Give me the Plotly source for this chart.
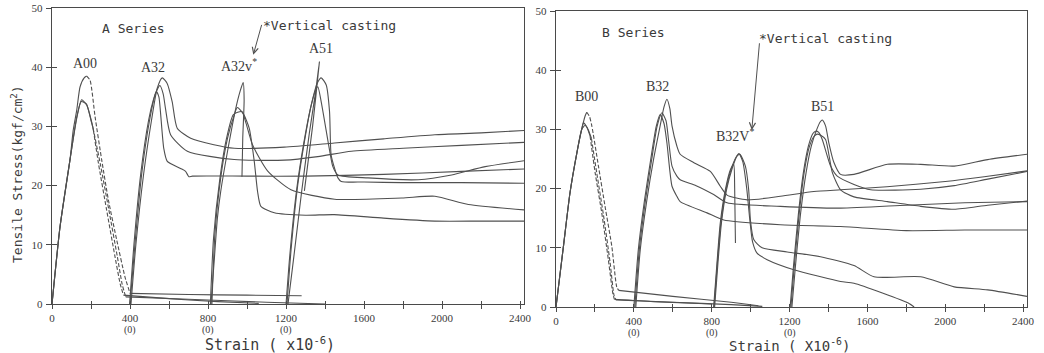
import plotly.graph_objects as go

# ---------------- DATA (strain x1e-6, stress kgf/cm2) ----------------
xticks = [0, 200, 400, 600, 800, 1000, 1200, 1400, 1600, 1800, 2000, 2200, 2400]
xticktext = ["0", "", "400", "", "800", "", "1200", "", "1600", "", "2000", "", "2400"]
xsubticks = [400, 800, 1200]
xsubtext = ["(0)", "(0)", "(0)"]
yticks = [0, 10, 20, 30, 40, 50]

# ---- A series ----
a00_1_rise_x = [0, 41, 92, 109, 127, 144, 165, 178]
a00_1_rise_y = [0, 13, 24.3, 29.4, 32.8, 36.7, 38.2, 38.5]
a00_1_fall_x = [178, 195, 221, 255, 289, 332, 374, 400]
a00_1_fall_y = [38.5, 37.8, 31.6, 24.3, 17.6, 10.8, 4.6, 1.8]
a00_1_tail_x = [400, 700, 1000, 1280]
a00_1_tail_y = [1.8, 1.6, 1.5, 1.4]

a00_2_rise_x = [0, 41, 92, 127, 152, 178, 203, 212]
a00_2_rise_y = [0, 13, 24.3, 31.6, 34.5, 33.6, 30.8, 29.4]
a00_2_fall_x = [212, 238, 280, 323, 349, 366]
a00_2_fall_y = [29.4, 23.8, 15.9, 8, 3.5, 1.5]
a00_2_tail_x = [366, 600, 850, 1060]
a00_2_tail_y = [1.5, 0.9, 0.4, 0.1]

a00_3_rise_x = [0, 41, 92, 127, 150, 176, 200, 210]
a00_3_rise_y = [0, 13, 24.3, 31.4, 34.2, 33.8, 31, 29.8]
a00_3_fall_x = [210, 248, 292, 335, 360, 378]
a00_3_fall_y = [29.8, 23.6, 15.8, 8, 3.3, 1.2]
a00_3_tail_x = [378, 700, 1100, 1400]
a00_3_tail_y = [1.2, 0.8, 0.3, 0]

a32_1_x = [405, 430, 470, 510, 540, 565, 590, 616, 642, 711, 830, 934, 1191, 1448, 1700, 1963, 2200, 2420]
a32_1_y = [0, 10, 22, 31, 36.5, 38.2, 37.3, 34.2, 29.7, 28, 26.9, 26.3, 26.5, 27.2, 27.9, 28.6, 28.9, 29.3]
a32_2_x = [400, 425, 460, 500, 530, 553, 570, 582, 608, 694, 934, 1191, 1363, 1535, 1800, 2100, 2420]
a32_2_y = [0, 10, 22, 31, 35.5, 36.9, 35.5, 33, 28.6, 25.8, 24.4, 24.3, 24.9, 25.8, 26.3, 26.8, 27.3]
a32_3_x = [398, 420, 455, 495, 520, 535, 548, 556, 573, 591, 659, 685, 702, 720, 1000, 1300, 1700, 2100, 2420]
a32_3_y = [0, 10, 22, 31, 34.5, 35.9, 35, 32.5, 26.3, 24.1, 22.9, 22.4, 21.5, 21.6, 21.6, 21.6, 21.9, 22.4, 22.8]

a32v_1_x = [815, 831, 848, 865, 900, 942, 965, 980, 985, 978, 974]
a32v_1_y = [0, 7, 14.5, 19, 25.8, 33, 36, 37.4, 34.5, 28, 21.5]
a32v_2_x = [820, 835, 865, 900, 934, 950, 980, 1011, 1037, 1054, 1071, 1140, 1300, 1447, 1700, 1963, 2200, 2420]
a32v_2_y = [0, 11.7, 21.3, 28, 31.9, 33.2, 32.2, 29.7, 24.1, 19, 16.5, 15.4, 15, 15.1, 14.5, 14, 14, 14]
a32v_3_x = [812, 828, 860, 895, 930, 973, 995, 1028, 1105, 1225, 1449, 1793, 1963, 2135, 2420]
a32v_3_y = [0, 11, 21, 28, 32, 32.5, 30.5, 26.9, 22.5, 19.3, 17.7, 17.9, 18.2, 16.8, 15.9]

a51_1_x = [1210, 1240, 1280, 1320, 1350, 1371, 1336, 1294]
a51_1_y = [0, 8, 19, 29, 35.5, 40.9, 30, 19.1]
a51_2_x = [1205, 1225, 1260, 1294, 1329, 1360, 1380, 1406, 1423, 1431, 1449, 1466, 1483, 1600, 1792, 2100, 2420]
a51_2_y = [0, 8.9, 20.1, 27.4, 33.6, 37.3, 38.2, 37, 32.5, 25.2, 22.9, 21.3, 20.7, 20.6, 20.5, 20.5, 20.4]
a51_3_x = [1200, 1220, 1255, 1290, 1325, 1350, 1363, 1380, 1423, 1440, 1466, 1620, 1878, 2049, 2221, 2420]
a51_3_y = [0, 8.5, 19.5, 27, 33, 36, 36.7, 34.2, 26, 23.2, 21.8, 21.3, 21, 21.8, 23.2, 24.2]

# ---- B series ----
b00_1_rise_x = [0, 38, 72, 107, 132, 150, 158]
b00_1_rise_y = [0, 10.2, 19.3, 26, 30, 32.3, 32.9]
b00_1_fall_x = [158, 172, 184, 218, 252, 287, 312, 322]
b00_1_fall_y = [32.9, 32.2, 30.6, 23.8, 17, 10.2, 3.4, 2.8]
b00_1_tail_x = [322, 600, 900, 1040]
b00_1_tail_y = [2.8, 1.8, 0.8, 0.2]

b00_2_rise_x = [0, 38, 72, 107, 132, 141, 158, 175]
b00_2_rise_y = [0, 10.2, 19.3, 26, 30, 31.1, 30.4, 28.9]
b00_2_fall_x = [175, 201, 235, 269, 292, 300]
b00_2_fall_y = [28.9, 22.7, 15.9, 8, 2.3, 1.3]
b00_2_tail_x = [300, 500, 800]
b00_2_tail_y = [1.3, 0.9, 0.5]

b00_3_rise_x = [0, 38, 72, 107, 132, 150, 165, 182]
b00_3_rise_y = [0, 10.2, 19.3, 26, 30, 30.7, 30, 28.5]
b00_3_fall_x = [182, 210, 244, 278, 298, 308]
b00_3_fall_y = [28.5, 22.5, 15.5, 7.5, 2, 1.2]
b00_3_tail_x = [308, 600, 900, 1060]
b00_3_tail_y = [1.2, 0.8, 0.4, 0.1]

b32_1_x = [410, 433, 467, 501, 535, 555, 570, 585, 596, 621, 638, 707, 793, 844, 879, 982, 1153, 1325, 1462, 1700, 2000, 2200, 2420]
b32_1_y = [0, 9.7, 18.1, 24.9, 30.6, 33.8, 35.1, 33.5, 30.6, 27.2, 25.8, 24.4, 22.9, 20.4, 18.9, 18.1, 18.7, 19.5, 19.8, 20.3, 21.2, 22, 23]
b32_2_x = [405, 428, 460, 492, 520, 544, 565, 578, 596, 621, 638, 720, 810, 879, 1153, 1462, 1800, 2100, 2420]
b32_2_y = [0, 9.7, 18.1, 25, 30.6, 32.8, 31.5, 28.3, 23.8, 22.1, 21.5, 20.5, 19, 17.6, 17, 16.7, 17.2, 17.6, 17.8]
b32_3_x = [400, 423, 455, 487, 515, 535, 555, 570, 596, 621, 638, 776, 862, 1153, 1462, 1800, 2100, 2420]
b32_3_y = [0, 9.7, 18.1, 25, 30.5, 32.5, 31, 27.7, 20.4, 18.7, 17.8, 15.9, 14.7, 13.9, 13.6, 12.9, 13, 13]

b32v_1_x = [810, 827, 844, 870, 896, 913, 918, 922]
b32v_1_y = [0, 7.4, 14.2, 19.8, 23.2, 24.1, 20, 10.8]
b32v_2_x = [815, 832, 850, 876, 905, 930, 945, 973, 990, 999, 1016, 1059, 1188, 1359, 1531, 1634, 1874, 2046, 2218, 2420]
b32v_2_y = [0, 7.4, 14.2, 19.8, 23.4, 25.5, 25.8, 23.8, 19.8, 14.7, 11.4, 10, 9.3, 8.5, 7, 5.1, 5.1, 3.4, 2.9, 1.8]
b32v_3_x = [812, 829, 847, 873, 900, 925, 940, 960, 980, 995, 1010, 1033, 1085, 1222, 1462, 1531, 1814, 1840]
b32v_3_y = [0, 7.4, 14.2, 19.8, 23.3, 25.3, 25.9, 24.5, 20, 15, 11, 9.1, 8, 6.3, 4.3, 4, 0.6, 0]

b51_1_x = [1212, 1230, 1257, 1285, 1312, 1340, 1358, 1368, 1385, 1402, 1428, 1462, 1531, 1703, 1874, 2046, 2218, 2420]
b51_1_y = [0, 6.8, 15.9, 22.7, 27.2, 30, 31.3, 31.6, 30.6, 27.7, 24.4, 22.4, 22.4, 24.1, 24.1, 23.8, 24.9, 25.8]
b51_2_x = [1203, 1220, 1246, 1271, 1297, 1320, 1334, 1350, 1368, 1411, 1445, 1531, 1617, 1874, 2046, 2218, 2420]
b51_2_y = [0, 6.8, 15.9, 22.7, 27.2, 29.3, 29.7, 29.5, 28.3, 23.8, 22.1, 20.7, 19.8, 19.9, 20.5, 21.6, 22.9]
b51_3_x = [1207, 1224, 1250, 1275, 1301, 1325, 1342, 1360, 1385, 1420, 1462, 1531, 1703, 1874, 2046, 2218, 2420]
b51_3_y = [0, 6.8, 15.9, 22.7, 27, 28.8, 29.2, 29, 28.3, 22.7, 19.8, 18.6, 17.8, 17, 16.5, 17.2, 17.9]

# ---------------- FIGURE ----------------
LINE = "#505050"
AX = "#4a4a4a"
TXT = "#3a3a3a"
MONO = "DejaVu Sans Mono"
SERIF = "Liberation Serif"

fig = go.Figure()

def add(xs, ys, panel, dash="solid"):
    xa, ya = ("x", "y") if panel == 1 else ("x2", "y2")
    fig.add_trace(go.Scatter(
        x=xs, y=ys, mode="lines", xaxis=xa, yaxis=ya,
        line=dict(color=LINE, width=1.1, dash=dash, shape="spline", smoothing=0.6),
        showlegend=False, hoverinfo="skip"))

for rx, ry, fx, fy, tx, ty in [
    (a00_1_rise_x, a00_1_rise_y, a00_1_fall_x, a00_1_fall_y, a00_1_tail_x, a00_1_tail_y),
    (a00_2_rise_x, a00_2_rise_y, a00_2_fall_x, a00_2_fall_y, a00_2_tail_x, a00_2_tail_y),
    (a00_3_rise_x, a00_3_rise_y, a00_3_fall_x, a00_3_fall_y, a00_3_tail_x, a00_3_tail_y)]:
    add(rx, ry, 1)
    add(fx, fy, 1, dash="4px,2px")
    add(tx, ty, 1)
for xs, ys in [(a32_1_x, a32_1_y), (a32_2_x, a32_2_y), (a32_3_x, a32_3_y),
               (a32v_1_x, a32v_1_y), (a32v_2_x, a32v_2_y), (a32v_3_x, a32v_3_y),
               (a51_1_x, a51_1_y), (a51_2_x, a51_2_y), (a51_3_x, a51_3_y)]:
    add(xs, ys, 1)

for rx, ry, fx, fy, tx, ty in [
    (b00_1_rise_x, b00_1_rise_y, b00_1_fall_x, b00_1_fall_y, b00_1_tail_x, b00_1_tail_y),
    (b00_2_rise_x, b00_2_rise_y, b00_2_fall_x, b00_2_fall_y, b00_2_tail_x, b00_2_tail_y),
    (b00_3_rise_x, b00_3_rise_y, b00_3_fall_x, b00_3_fall_y, b00_3_tail_x, b00_3_tail_y)]:
    add(rx, ry, 2)
    add(fx, fy, 2, dash="4px,2px")
    add(tx, ty, 2)
for xs, ys in [(b32_1_x, b32_1_y), (b32_2_x, b32_2_y), (b32_3_x, b32_3_y),
               (b32v_1_x, b32v_1_y), (b32v_2_x, b32v_2_y), (b32v_3_x, b32v_3_y),
               (b51_1_x, b51_1_y), (b51_2_x, b51_2_y), (b51_3_x, b51_3_y)]:
    add(xs, ys, 2)

# empty traces so the overlay (inward) tick axes get drawn
fig.add_trace(go.Scatter(x=[], y=[], xaxis="x3", yaxis="y3", showlegend=False))
fig.add_trace(go.Scatter(x=[], y=[], xaxis="x4", yaxis="y4", showlegend=False))

W, H = 1044, 353
L_dom_x = [52 / W, 524 / W]
R_dom_x = [556 / W, 1027 / W]
L_dom_y = [(H - 304) / H, (H - 8) / H]
R_dom_y = [(H - 307) / H, (H - 11) / H]
XR = [0, 2420]
YR = [0, 50]

tickfont = dict(family=SERIF, size=11, color=TXT)

def xax(dom, anchor):
    return dict(domain=dom, range=XR, anchor=anchor, automargin=False, showgrid=False, zeroline=False,
                showline=True, mirror=True, linecolor=AX, linewidth=1.4,
                tickmode="array", tickvals=xticks, ticktext=xticktext,
                ticks="outside", ticklen=4, tickwidth=1.3, tickcolor=AX,
                tickfont=tickfont, ticklabelstandoff=0)

def yax(dom, anchor):
    return dict(domain=dom, range=YR, anchor=anchor, automargin=False, showgrid=False, zeroline=False,
                showline=True, mirror=True, linecolor=AX, linewidth=1.4,
                tickmode="array", tickvals=yticks,
                ticks="outside", ticklen=5, tickwidth=1.3, tickcolor=AX,
                tickfont=tickfont, ticklabelstandoff=1)

def xin(over, anchor):
    return dict(overlaying=over, matches=over, anchor=anchor, automargin=False, showgrid=False, zeroline=False,
                showline=False, tickmode="array", tickvals=xticks, ticks="inside",
                ticklen=3, tickwidth=1.3, tickcolor=AX, showticklabels=False)

def yin(over, anchor):
    return dict(overlaying=over, matches=over, anchor=anchor, automargin=False, showgrid=False, zeroline=False,
                showline=False, tickmode="array", tickvals=yticks[:-1], ticks="inside",
                ticklen=5, tickwidth=1.3, tickcolor=AX, showticklabels=False)

fig.update_layout(
    width=W, height=H,
    margin=dict(l=0, r=0, t=0, b=0, autoexpand=False),
    paper_bgcolor="white", plot_bgcolor="white",
    xaxis=xax(L_dom_x, "y"), yaxis=yax(L_dom_y, "x"),
    xaxis2=xax(R_dom_x, "y2"), yaxis2=yax(R_dom_y, "x2"),
    xaxis3=xin("x", "y3"), yaxis3=yin("y", "x3"),
    xaxis4=xin("x2", "y4"), yaxis4=yin("y2", "x4"),
)

ann = []
def label(text, x, y, panel, font, xanchor="center"):
    ann.append(dict(text=text, x=x, y=y, xref="x" if panel == 1 else "x2",
                    yref="y" if panel == 1 else "y2", showarrow=False,
                    xanchor=xanchor, yanchor="middle", font=font))

mono = dict(family=MONO, size=13, color=TXT)
serif = dict(family=SERIF, size=14, color=TXT)

label("A Series", 246, 46.6, 1, mono, "left")
label("*Vertical casting", 1072, 47.0, 1, mono, "left")
label("A00", 169, 40.7, 1, serif)
label("A32", 518, 40.0, 1, serif)
label("A32v<sup>*</sup>", 959, 40.4, 1, serif)
label("A51", 1379, 43.2, 1, serif)

label("B Series", 226, 46.3, 2, mono, "left")
label("*Vertical casting", 1035, 45.4, 2, mono, "left")
label("B00", 159, 35.5, 2, serif)
label("B32", 519, 37.2, 2, serif)
label("B32V<sup>*</sup>", 920, 29.1, 2, serif)
label("B51", 1367, 33.8, 2, serif)

# "(0)" sub-labels under the 400/800/1200 ticks
for xr, yp in [("x", (H - 329.5) / H), ("x2", (H - 333) / H)]:
    for xv, tv in zip(xsubticks, xsubtext):
        ann.append(dict(text=tv, x=xv, y=yp, xref=xr, yref="paper", showarrow=False,
                        xanchor="center", yanchor="middle",
                        font=dict(family=SERIF, size=10, color=TXT)))

# pointer arrows
ann.append(dict(text="", x=1032, y=42.1, ax=1077, ay=47.4, xref="x", yref="y", axref="x", ayref="y",
                showarrow=True, arrowhead=5, arrowsize=1.2, arrowwidth=1, arrowcolor=LINE))
ann.append(dict(text="", x=1006, y=29.9, ax=1046, ay=44.8, xref="x2", yref="y2", axref="x2", ayref="y2",
                showarrow=True, arrowhead=5, arrowsize=1.2, arrowwidth=1, arrowcolor=LINE))

# axis titles
ann.append(dict(text="Tensile Stress(kgf/cm<sup>2</sup>)", x=17 / W, y=(H - 174) / H, xref="paper", yref="paper",
                xanchor="center", yanchor="middle",
                showarrow=False, textangle=-90, font=dict(family=MONO, size=13, color=TXT)))
ann.append(dict(text="Strain ( x10<sup>-6</sup>)", x=270 / W, y=(H - 344) / H, xref="paper", yref="paper",
                xanchor="center", yanchor="middle",
                showarrow=False, font=dict(family=MONO, size=15, color=TXT)))
ann.append(dict(text="Strain ( X10<sup>-6</sup>)", x=789 / W, y=(H - 345) / H, xref="paper", yref="paper",
                xanchor="center", yanchor="middle",
                showarrow=False, font=dict(family=MONO, size=14, color=TXT)))

fig.update_layout(annotations=ann)
fig.write_html("out.html", config={"displayModeBar": False},
               post_script="document.body.style.margin='0';document.body.style.padding='0';")
